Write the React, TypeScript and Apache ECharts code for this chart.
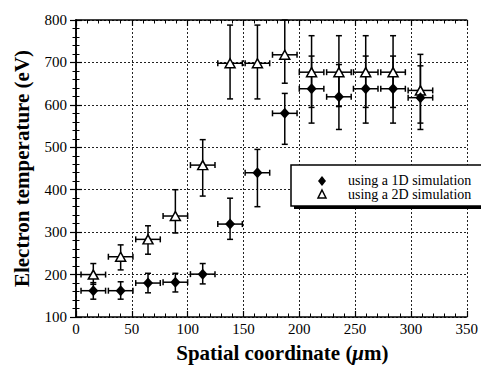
import React, { useEffect, useRef } from "react";
import * as echarts from "echarts";

// Spatial coordinate (µm) of each measurement
const xs = [15.5, 40, 64.5, 89, 113.5, 138, 162.5, 187, 211, 235.5, 259.5, 284, 308.5];
const xErr = 11;

// 1D simulation
const t1 = [162, 162, 180, 182, 201, 319, 440, 580, 638, 619, 638, 638, 617];
const lo1 = [142, 142, 157, 159, 178, 283, 360, 507, 557, 542, 557, 557, 542];
const hi1 = [181, 183, 203, 203, 226, 380, 495, 627, 715, 695, 715, 715, 692];

// 2D simulation
const t2 = [200, 242, 283, 338, 458, 698, 698, 718, 677, 677, 677, 677, 634];
const lo2 = [177, 211, 248, 298, 385, 614, 614, 651, 594, 596, 594, 594, 557];
const hi2 = [226, 270, 315, 400, 518, 788, 788, 800, 763, 763, 763, 763, 719];

const name1 = "using a 1D simulation";
const name2 = "using a 2D simulation";

const FONT = "Liberation Serif";

function errRender(params: any, api: any) {
  const x = api.value(0);
  const y = api.value(1);
  const lo = api.value(2);
  const hi = api.value(3);
  const xe = api.value(4);
  const pLo = api.coord([x, lo]);
  const pHi = api.coord([x, hi]);
  const pL = api.coord([x - xe, y]);
  const pR = api.coord([x + xe, y]);
  const c = 3;
  const style = { stroke: "#000", lineWidth: 1.5 };
  const ln = (x1: number, y1: number, x2: number, y2: number) => ({
    type: "line",
    shape: { x1, y1, x2, y2 },
    style,
  });
  return {
    type: "group",
    children: [
      ln(pLo[0], pLo[1], pHi[0], pHi[1]),
      ln(pLo[0] - c, pLo[1], pLo[0] + c, pLo[1]),
      ln(pHi[0] - c, pHi[1], pHi[0] + c, pHi[1]),
      ln(pL[0], pL[1], pR[0], pR[1]),
      ln(pL[0], pL[1] - c, pL[0], pL[1] + c),
      ln(pR[0], pR[1] - c, pR[0], pR[1] + c),
    ],
  };
}

export default function App() {
  const ref = useRef<HTMLDivElement>(null);
  useEffect(() => {
    if (!ref.current) return;
    const chart = echarts.init(ref.current, undefined, { renderer: "svg" });
    const axisLine = { lineStyle: { color: "#000", width: 1.5 } };
    const axisTick = { inside: true, length: 6, lineStyle: { color: "#000", width: 1.2 } };
    const minorTick = { show: true, splitNumber: 5, length: 3.5, lineStyle: { color: "#000", width: 1 } };
    const splitLine = { show: true, lineStyle: { color: "#222", type: [2, 2] as any, width: 1 } };
    const err1 = xs.map((x, i) => [x, t1[i], lo1[i], hi1[i], xErr]);
    const err2 = xs.map((x, i) => [x, t2[i], lo2[i], hi2[i], xErr]);
    const pts1 = xs.map((x, i) => [x, t1[i]]);
    const pts2 = xs.map((x, i) => [x, t2[i]]);

    chart.setOption({
      animation: false,
      backgroundColor: "#fff",
      textStyle: { fontFamily: FONT },
      grid: { left: 76, right: 13, top: 20, bottom: 45 },
      xAxis: [
        {
          type: "value",
          min: 0,
          max: 350,
          interval: 50,
          position: "bottom",
          axisLine,
          axisTick,
          minorTick,
          splitLine,
          axisLabel: { color: "#000", fontFamily: FONT, fontSize: 15, margin: 4 },
          name: "Spatial coordinate ({i|μ}m)",
          nameLocation: "middle",
          nameGap: 25,
          nameTextStyle: {
            color: "#000",
            fontFamily: FONT,
            fontSize: 21,
            fontWeight: "bold",
            padding: [0, 0, 0, 22],
            rich: { i: { fontFamily: FONT, fontSize: 21, fontWeight: "bold", fontStyle: "italic", color: "#000" } },
          },
        },
        {
          type: "value",
          min: 0,
          max: 350,
          interval: 50,
          position: "top",
          axisLine,
          axisTick,
          minorTick,
          splitLine: { show: false },
          axisLabel: { show: false },
        },
      ],
      yAxis: [
        {
          type: "value",
          min: 100,
          max: 800,
          interval: 100,
          position: "left",
          axisLine,
          axisTick,
          minorTick,
          splitLine,
          axisLabel: { color: "#000", fontFamily: FONT, fontSize: 15, margin: 9 },
          name: "Electron temperature (eV)",
          nameLocation: "middle",
          nameRotate: 90,
          nameGap: 44,
          nameTextStyle: { color: "#000", fontFamily: FONT, fontSize: 21, fontWeight: "bold" },
        },
        {
          type: "value",
          min: 100,
          max: 800,
          interval: 100,
          position: "right",
          axisLine,
          axisTick,
          minorTick,
          splitLine: { show: false },
          axisLabel: { show: false },
        },
      ],
      series: [
        {
          type: "custom",
          name: name1 + " error",
          renderItem: errRender,
          data: err1,
          encode: { x: 0, y: 1 },
          z: 2,
        },
        {
          type: "custom",
          name: name2 + " error",
          renderItem: errRender,
          data: err2,
          encode: { x: 0, y: 1 },
          z: 2,
        },
        {
          type: "scatter",
          name: name2,
          data: pts2,
          symbol: "triangle",
          symbolSize: [10, 9],
          itemStyle: { color: "#fff", borderColor: "#000", borderWidth: 1.5, opacity: 1 },
          z: 3,
        },
        {
          type: "scatter",
          name: name1,
          data: pts1,
          symbol: "diamond",
          symbolSize: [10, 11],
          itemStyle: { color: "#000", opacity: 1 },
          z: 4,
        },
      ],
      graphic: [
        {
          type: "rect",
          z: 100,
          shape: { x: 294, y: 168, width: 200, height: 41 },
          style: { fill: "#000" },
        },
        {
          type: "rect",
          z: 101,
          shape: { x: 291, y: 165, width: 200, height: 41 },
          style: { fill: "#fff", stroke: "#000", lineWidth: 1.5 },
        },
        {
          type: "polygon",
          z: 102,
          shape: { points: [[322, 176], [326, 181], [322, 186], [318, 181]] },
          style: { fill: "#000" },
        },
        {
          type: "polygon",
          z: 102,
          shape: { points: [[322, 190], [326, 198], [318, 198]] },
          style: { fill: "#fff", stroke: "#000", lineWidth: 1.5 },
        },
        {
          type: "text",
          z: 102,
          x: 348,
          y: 180,
          style: { text: name1, fill: "#000", font: `14px ${FONT}`, verticalAlign: "middle" },
        },
        {
          type: "text",
          z: 102,
          x: 348,
          y: 194,
          style: { text: name2, fill: "#000", font: `14px ${FONT}`, verticalAlign: "middle" },
        },
      ],
    });
    return () => chart.dispose();
  }, []);
  return (
    <div
      ref={ref}
      style={{ position: "fixed", left: 0, top: 0, width: 481, height: 368 }}
    />
  );
}
